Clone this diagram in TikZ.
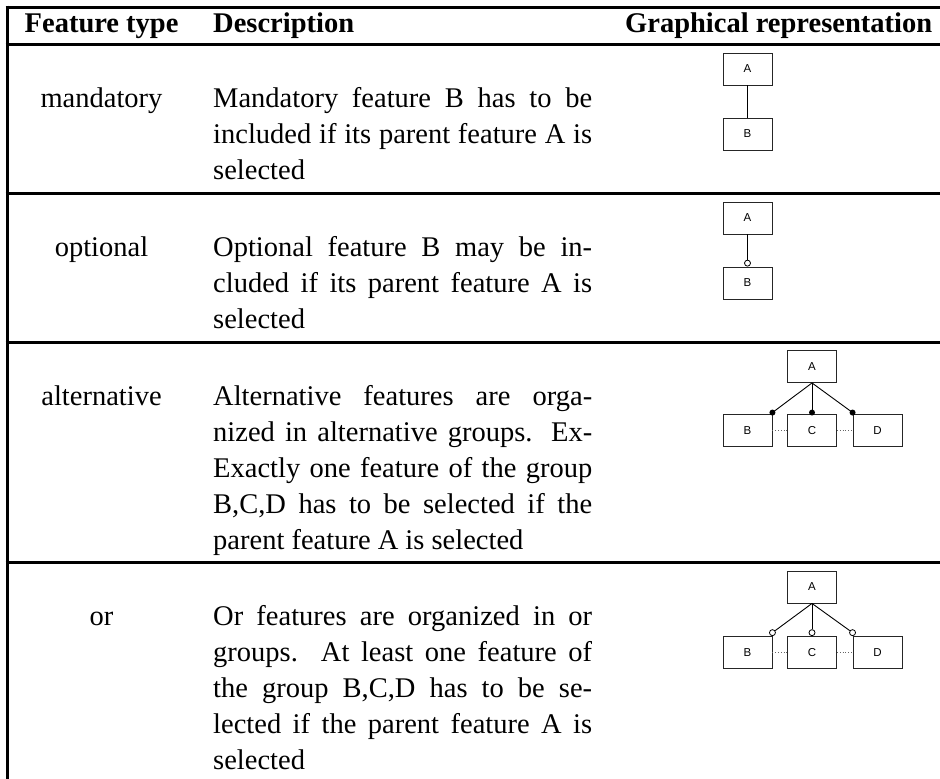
\documentclass[tikz,border=0pt]{standalone}
\usepackage{fontspec}
\setmainfont{Liberation Serif}
\newfontfamily\boxfont{Liberation Sans}
\newcommand\jline[1]{\makebox[379pt][s]{#1}}
\begin{document}
\begin{tikzpicture}[x=1pt,y=-1pt,
  rule/.style={line width=3pt},
  fbox/.style={draw=black!85, line width=0.9pt, minimum width=49pt, minimum height=32pt, inner sep=0pt, font=\boxfont\fontsize{11.5}{13}\selectfont},
  conn/.style={line width=0.9pt},
  txt/.style={inner sep=0pt, anchor=base west, font=\fontsize{28.5}{36}\selectfont},
  hdr/.style={inner sep=0pt, anchor=base west, font=\fontsize{28.5}{36}\selectfont\bfseries},
  lbl/.style={inner sep=0pt, anchor=base, font=\fontsize{28.5}{36}\selectfont},
  odot/.style={circle, draw, fill=white, line width=0.8pt, inner sep=0pt, minimum size=6pt},
  fdot/.style={circle, fill=black, inner sep=0pt, minimum size=6pt},
  grp/.style={dotted, line width=0.8pt, black!60}
]
\useasboundingbox (0,0) rectangle (940,779);
% table rules
\draw[rule] (5.5,7) -- (940,7);
\draw[rule] (5.5,44) -- (940,44);
\draw[rule] (5.5,193) -- (940,193);
\draw[rule] (5.5,342) -- (940,342);
\draw[rule] (5.5,562) -- (940,562);
\draw[rule] (7,5.5) -- (7,779);
% header
\node[hdr] (h1) at (24.5,32.5) {Feature type};
\node[hdr] (h2) at (213,32.5) {Description};
\node[hdr] (h3) at (625,32.5) {Graphical representation};
% labels
\node[lbl] (l1) at (101.5,107) {mandatory};
\node[lbl] (l2) at (101.5,256) {optional};
\node[lbl] (l3) at (101.5,405) {alternative};
\node[lbl] (l4) at (101.5,625) {or};
% mandatory description
\node[txt] (m1) at (213,107) {\jline{Mandatory feature B has to be}};
\node[txt] (m2) at (213,143) {\jline{included if its parent feature A is}};
\node[txt] (m3) at (213,179) {selected};
% optional description
\node[txt] (o1) at (213,256) {\jline{Optional feature B may be in-}};
\node[txt] (o2) at (213,292) {\jline{cluded if its parent feature A is}};
\node[txt] (o3) at (213,328) {selected};
% alternative description
\node[txt] (a1) at (213,405) {\jline{Alternative features are orga-}};
\node[txt] (a2) at (213,441) {\jline{nized in alternative groups. Ex-}};
\node[txt] (a3) at (213,477) {\jline{Exactly one feature of the group}};
\node[txt] (a4) at (213,513) {\jline{B,C,D has to be selected if the}};
\node[txt] (a5) at (213,549) {parent feature A is selected};
% or description
\node[txt] (r1) at (213,625) {\jline{Or features are organized in or}};
\node[txt] (r2) at (213,661) {\jline{groups. At least one feature of}};
\node[txt] (r3) at (213,697) {\jline{the group B,C,D has to be se-}};
\node[txt] (r4) at (213,733) {\jline{lected if the parent feature A is}};
\node[txt] (r5) at (213,769) {selected};
% mandatory graphic
\node[fbox] (mA) at (747.5,69) {A};
\node[fbox] (mB) at (747.5,134) {B};
\draw[conn] (mA.south) -- (mB.north);
% optional graphic
\node[fbox] (oA) at (747.5,218) {A};
\node[fbox] (oB) at (747.5,283) {B};
\node[odot, anchor=south] (oc) at (oB.north) {};
\draw[conn] (oA.south) -- (oc.north);
% alternative graphic
\node[fbox] (aA) at (812,366.5) {A};
\node[fbox] (aB) at (747.5,430.5) {B};
\node[fbox] (aC) at (812,430.5) {C};
\node[fbox] (aD) at (877.5,430.5) {D};
\node[fdot] (adB) at ([yshift=1.5pt]aB.north east) {};
\node[fdot] (adC) at ([yshift=1.5pt]aC.north) {};
\node[fdot] (adD) at ([yshift=1.5pt]aD.north west) {};
\draw[conn] (aA.south) -- (adB.center);
\draw[conn] (aA.south) -- (adC.center);
\draw[conn] (aA.south) -- (adD.center);
\draw[grp] (aB.east) -- (aC.west);
\draw[grp] (aC.east) -- (aD.west);
% or graphic
\node[fbox] (rA) at (812,587) {A};
\node[fbox] (rB) at (747.5,652.5) {B};
\node[fbox] (rC) at (812,652.5) {C};
\node[fbox] (rD) at (877.5,652.5) {D};
\node[odot, anchor=south] (rcB) at (rB.north east) {};
\node[odot, anchor=south] (rcC) at (rC.north) {};
\node[odot, anchor=south] (rcD) at (rD.north west) {};
\draw[conn] (rA.south) -- (rcB);
\draw[conn] (rA.south) -- (rcC);
\draw[conn] (rA.south) -- (rcD);
\draw[grp] (rB.east) -- (rC.west);
\draw[grp] (rC.east) -- (rD.west);
\end{tikzpicture}
\end{document}
